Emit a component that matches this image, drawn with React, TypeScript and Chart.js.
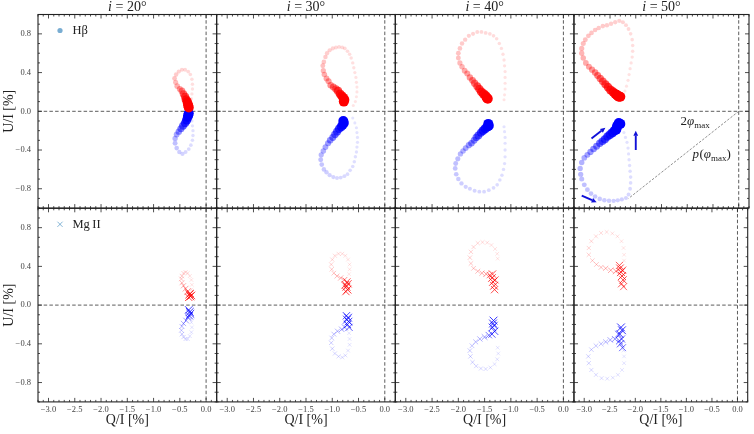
import React, { useEffect, useRef } from "react";
import { Chart, registerables } from "chart.js";

Chart.register(...registerables);

// [Q/I (%), U/I (%), relative line flux]
type Sample = [number, number, number];

const inclinations = [20, 30, 40, 50];
const qRange = [-3.2, 0.2];
const uRange = [-1.0, 1.0];
const qLabelValues = [-3.0, -2.5, -2.0, -1.5, -1.0, -0.5, 0.0];
const uLabelValues = [-0.8, -0.4, 0.0, 0.4, 0.8];

// ---- H beta, red wing ----
const hbetaRed20: Sample[] = [
  [-0.33, 0.04, 1], [-0.34, 0.06, 1], [-0.35, 0.08, 0.95], [-0.36, 0.1, 0.9], [-0.38, 0.12, 0.85],
  [-0.4, 0.15, 0.75], [-0.43, 0.18, 0.65], [-0.46, 0.21, 0.55], [-0.5, 0.23, 0.45], [-0.55, 0.26, 0.38],
  [-0.58, 0.3, 0.32], [-0.6, 0.34, 0.28], [-0.57, 0.38, 0.24], [-0.52, 0.41, 0.2], [-0.46, 0.43, 0.18],
  [-0.4, 0.43, 0.16], [-0.34, 0.41, 0.14], [-0.3, 0.38, 0.12], [-0.27, 0.33, 0.1], [-0.26, 0.28, 0.09],
  [-0.26, 0.23, 0.08], [-0.27, 0.18, 0.07], [-0.28, 0.13, 0.06], [-0.3, 0.08, 0.05], [-0.32, 0.03, 0.05],
];
const hbetaRed30: Sample[] = [
  [-0.78, 0.1, 1], [-0.77, 0.12, 1], [-0.79, 0.14, 0.95], [-0.82, 0.16, 0.9], [-0.85, 0.18, 0.85],
  [-0.89, 0.21, 0.75], [-0.93, 0.23, 0.65], [-0.98, 0.25, 0.58], [-1.03, 0.27, 0.52], [-1.07, 0.31, 0.46],
  [-1.11, 0.34, 0.42], [-1.15, 0.38, 0.38], [-1.17, 0.42, 0.34], [-1.18, 0.47, 0.3], [-1.16, 0.51, 0.27],
  [-1.13, 0.56, 0.24], [-1.1, 0.6, 0.22], [-1.05, 0.63, 0.2], [-0.99, 0.65, 0.18], [-0.93, 0.66, 0.16],
  [-0.87, 0.665, 0.15], [-0.81, 0.66, 0.14], [-0.76, 0.65, 0.13], [-0.71, 0.62, 0.12], [-0.67, 0.59, 0.11],
  [-0.64, 0.55, 0.1], [-0.61, 0.5, 0.09], [-0.59, 0.45, 0.08], [-0.57, 0.4, 0.07], [-0.55, 0.35, 0.06],
  [-0.54, 0.3, 0.06], [-0.53, 0.25, 0.05], [-0.53, 0.2, 0.05], [-0.54, 0.15, 0.04], [-0.56, 0.1, 0.04],
  [-0.6, 0.06, 0.04],
];
const hbetaRed40: Sample[] = [
  [-1.44, 0.13, 1], [-1.46, 0.14, 1], [-1.48, 0.16, 0.95], [-1.52, 0.18, 0.9], [-1.56, 0.2, 0.85],
  [-1.6, 0.23, 0.78], [-1.64, 0.26, 0.7], [-1.69, 0.29, 0.62], [-1.73, 0.32, 0.56], [-1.78, 0.35, 0.5],
  [-1.83, 0.39, 0.45], [-1.88, 0.42, 0.4], [-1.93, 0.46, 0.36], [-1.97, 0.5, 0.33], [-2.0, 0.55, 0.3],
  [-2.0, 0.6, 0.28], [-1.97, 0.65, 0.26], [-1.93, 0.7, 0.24], [-1.87, 0.74, 0.22], [-1.8, 0.78, 0.2],
  [-1.72, 0.8, 0.18], [-1.64, 0.82, 0.16], [-1.56, 0.82, 0.15], [-1.48, 0.81, 0.14], [-1.4, 0.8, 0.13],
  [-1.33, 0.78, 0.12], [-1.27, 0.75, 0.11], [-1.22, 0.7, 0.1], [-1.18, 0.65, 0.09], [-1.15, 0.59, 0.08],
  [-1.13, 0.53, 0.07], [-1.12, 0.47, 0.07], [-1.11, 0.41, 0.06], [-1.11, 0.35, 0.06], [-1.11, 0.29, 0.05],
  [-1.11, 0.23, 0.05], [-1.12, 0.17, 0.04], [-1.13, 0.12, 0.04],
];
const hbetaRed50: Sample[] = [
  [-2.3, 0.15, 1], [-2.33, 0.15, 1], [-2.35, 0.16, 1], [-2.37, 0.17, 1], [-2.4, 0.18, 0.95],
  [-2.44, 0.2, 0.9], [-2.49, 0.22, 0.85], [-2.54, 0.25, 0.8], [-2.59, 0.28, 0.74], [-2.64, 0.31, 0.68],
  [-2.69, 0.34, 0.63], [-2.74, 0.37, 0.58], [-2.79, 0.4, 0.53], [-2.85, 0.43, 0.48], [-2.91, 0.46, 0.44],
  [-2.97, 0.5, 0.4], [-3.02, 0.55, 0.37], [-3.05, 0.6, 0.35], [-3.05, 0.65, 0.33], [-3.02, 0.7, 0.31],
  [-2.98, 0.74, 0.3], [-2.92, 0.78, 0.28], [-2.86, 0.81, 0.27], [-2.79, 0.84, 0.26], [-2.72, 0.86, 0.25],
  [-2.64, 0.88, 0.24], [-2.56, 0.89, 0.23], [-2.48, 0.905, 0.22], [-2.4, 0.92, 0.21], [-2.32, 0.935, 0.2],
  [-2.25, 0.92, 0.18], [-2.19, 0.89, 0.16], [-2.14, 0.85, 0.14], [-2.1, 0.8, 0.12], [-2.07, 0.74, 0.11],
  [-2.06, 0.68, 0.1], [-2.06, 0.62, 0.09], [-2.07, 0.56, 0.08], [-2.09, 0.5, 0.07], [-2.11, 0.44, 0.07],
  [-2.13, 0.38, 0.06], [-2.15, 0.32, 0.06], [-2.18, 0.26, 0.05], [-2.21, 0.21, 0.05],
];

// ---- H beta, blue wing ----
const hbetaBlue20: Sample[] = [
  [-0.33, -0.02, 1], [-0.34, -0.04, 1], [-0.35, -0.06, 0.95], [-0.37, -0.09, 0.9], [-0.4, -0.12, 0.8],
  [-0.44, -0.15, 0.7], [-0.48, -0.18, 0.6], [-0.52, -0.21, 0.5], [-0.56, -0.24, 0.42], [-0.59, -0.28, 0.35],
  [-0.59, -0.33, 0.3], [-0.56, -0.38, 0.26], [-0.51, -0.42, 0.22], [-0.45, -0.44, 0.19], [-0.39, -0.42, 0.16],
  [-0.33, -0.39, 0.14], [-0.29, -0.35, 0.12], [-0.26, -0.3, 0.1], [-0.25, -0.25, 0.09], [-0.25, -0.2, 0.08],
  [-0.26, -0.15, 0.07], [-0.27, -0.1, 0.06], [-0.29, -0.05, 0.05],
];
const hbetaBlue30: Sample[] = [
  [-0.79, -0.1, 1], [-0.78, -0.12, 1], [-0.8, -0.14, 0.95], [-0.83, -0.16, 0.88], [-0.87, -0.18, 0.8],
  [-0.91, -0.21, 0.72], [-0.95, -0.24, 0.65], [-0.99, -0.27, 0.58], [-1.04, -0.3, 0.52], [-1.08, -0.33, 0.46],
  [-1.13, -0.37, 0.42], [-1.17, -0.41, 0.38], [-1.21, -0.45, 0.34], [-1.22, -0.5, 0.3], [-1.2, -0.55, 0.27],
  [-1.16, -0.6, 0.24], [-1.11, -0.63, 0.22], [-1.05, -0.66, 0.2], [-0.98, -0.68, 0.18], [-0.91, -0.69, 0.16],
  [-0.84, -0.685, 0.15], [-0.77, -0.67, 0.14], [-0.71, -0.65, 0.13], [-0.66, -0.61, 0.12], [-0.61, -0.57, 0.11],
  [-0.58, -0.52, 0.1], [-0.56, -0.47, 0.09], [-0.54, -0.42, 0.08], [-0.53, -0.37, 0.07], [-0.52, -0.32, 0.06],
  [-0.52, -0.27, 0.06], [-0.53, -0.22, 0.05], [-0.54, -0.17, 0.05], [-0.57, -0.12, 0.04], [-0.61, -0.07, 0.04],
];
const hbetaBlue40: Sample[] = [
  [-1.43, -0.13, 1], [-1.42, -0.15, 1], [-1.45, -0.16, 0.95], [-1.49, -0.18, 0.9], [-1.53, -0.2, 0.84],
  [-1.57, -0.22, 0.77], [-1.62, -0.25, 0.7], [-1.66, -0.27, 0.63], [-1.7, -0.3, 0.57], [-1.75, -0.33, 0.52],
  [-1.8, -0.35, 0.47], [-1.86, -0.38, 0.42], [-1.91, -0.41, 0.38], [-1.96, -0.44, 0.35], [-2.01, -0.49, 0.32],
  [-2.05, -0.54, 0.3], [-2.06, -0.59, 0.28], [-2.04, -0.65, 0.26], [-2.0, -0.7, 0.24], [-1.94, -0.745, 0.22],
  [-1.86, -0.78, 0.2], [-1.78, -0.8, 0.18], [-1.69, -0.82, 0.17], [-1.6, -0.83, 0.16], [-1.51, -0.83, 0.15],
  [-1.42, -0.815, 0.14], [-1.33, -0.79, 0.13], [-1.26, -0.76, 0.12], [-1.21, -0.71, 0.11], [-1.17, -0.66, 0.1],
  [-1.14, -0.6, 0.09], [-1.12, -0.54, 0.08], [-1.11, -0.47, 0.07], [-1.11, -0.4, 0.07], [-1.11, -0.33, 0.06],
  [-1.11, -0.27, 0.06], [-1.12, -0.21, 0.05], [-1.13, -0.16, 0.05],
];
const hbetaBlue50: Sample[] = [
  [-2.3, -0.13, 1], [-2.33, -0.12, 1], [-2.36, -0.15, 1], [-2.37, -0.17, 1], [-2.38, -0.19, 1],
  [-2.41, -0.2, 0.95], [-2.45, -0.22, 0.9], [-2.5, -0.24, 0.85], [-2.55, -0.26, 0.8], [-2.6, -0.29, 0.74],
  [-2.65, -0.31, 0.68], [-2.7, -0.33, 0.63], [-2.76, -0.36, 0.58], [-2.82, -0.39, 0.53], [-2.88, -0.42, 0.48],
  [-2.94, -0.45, 0.44], [-3.0, -0.48, 0.4], [-3.05, -0.53, 0.37], [-3.08, -0.59, 0.35], [-3.07, -0.65, 0.33],
  [-3.05, -0.7, 0.31], [-3.0, -0.76, 0.3], [-2.94, -0.81, 0.28], [-2.87, -0.85, 0.27], [-2.79, -0.88, 0.26],
  [-2.7, -0.905, 0.25], [-2.61, -0.92, 0.24], [-2.52, -0.925, 0.23], [-2.43, -0.925, 0.22], [-2.35, -0.92, 0.21],
  [-2.27, -0.91, 0.2], [-2.19, -0.895, 0.18], [-2.14, -0.86, 0.16], [-2.11, -0.8, 0.14], [-2.1, -0.74, 0.12],
  [-2.1, -0.68, 0.11], [-2.11, -0.62, 0.1], [-2.12, -0.56, 0.09], [-2.13, -0.5, 0.08], [-2.14, -0.44, 0.07],
  [-2.15, -0.38, 0.07], [-2.17, -0.32, 0.06], [-2.2, -0.27, 0.06], [-2.23, -0.22, 0.05],
];

// ---- Mg II, red wing ----
const mg2Red20: Sample[] = [
  [-0.3, 0.09, 1], [-0.32, 0.11, 1], [-0.28, 0.1, 0.95], [-0.33, 0.08, 0.9], [-0.3, 0.12, 0.9],
  [-0.35, 0.14, 0.7], [-0.39, 0.17, 0.55], [-0.43, 0.2, 0.45], [-0.46, 0.23, 0.38], [-0.47, 0.27, 0.32],
  [-0.46, 0.3, 0.28], [-0.43, 0.33, 0.24], [-0.39, 0.34, 0.2], [-0.35, 0.33, 0.17], [-0.31, 0.3, 0.15],
  [-0.28, 0.26, 0.13], [-0.27, 0.21, 0.11], [-0.28, 0.16, 0.1],
];
const mg2Red30: Sample[] = [
  [-0.73, 0.19, 1], [-0.71, 0.16, 1], [-0.75, 0.21, 0.95], [-0.7, 0.22, 0.9], [-0.74, 0.14, 0.9],
  [-0.72, 0.24, 0.85], [-0.77, 0.26, 0.6], [-0.84, 0.28, 0.45], [-0.91, 0.3, 0.38], [-0.97, 0.33, 0.32],
  [-1.01, 0.37, 0.28], [-1.02, 0.42, 0.25], [-1.0, 0.47, 0.22], [-0.95, 0.51, 0.2], [-0.88, 0.53, 0.18],
  [-0.81, 0.53, 0.16], [-0.75, 0.51, 0.14], [-0.7, 0.47, 0.13], [-0.67, 0.42, 0.12], [-0.67, 0.37, 0.11],
  [-0.68, 0.32, 0.1],
];
const mg2Red40: Sample[] = [
  [-1.34, 0.24, 1], [-1.32, 0.2, 1], [-1.36, 0.28, 0.95], [-1.31, 0.16, 0.9], [-1.35, 0.32, 0.9],
  [-1.3, 0.26, 0.85], [-1.4, 0.31, 0.7], [-1.47, 0.32, 0.55], [-1.55, 0.33, 0.45], [-1.63, 0.35, 0.38],
  [-1.71, 0.38, 0.33], [-1.76, 0.43, 0.3], [-1.78, 0.49, 0.27], [-1.76, 0.55, 0.24], [-1.71, 0.6, 0.22],
  [-1.63, 0.64, 0.2], [-1.54, 0.65, 0.18], [-1.45, 0.645, 0.16], [-1.37, 0.62, 0.14], [-1.3, 0.58, 0.13],
  [-1.26, 0.53, 0.12], [-1.25, 0.48, 0.11],
];
const mg2Red50: Sample[] = [
  [-2.28, 0.34, 1], [-2.26, 0.3, 1], [-2.3, 0.38, 0.95], [-2.24, 0.26, 0.9], [-2.27, 0.22, 0.85],
  [-2.23, 0.19, 0.8], [-2.31, 0.41, 0.85], [-2.25, 0.36, 0.9], [-2.38, 0.35, 0.6], [-2.48, 0.36, 0.5],
  [-2.58, 0.38, 0.42], [-2.67, 0.39, 0.36], [-2.76, 0.42, 0.32], [-2.84, 0.46, 0.28], [-2.91, 0.52, 0.25],
  [-2.91, 0.59, 0.23], [-2.86, 0.66, 0.21], [-2.77, 0.71, 0.19], [-2.67, 0.745, 0.17], [-2.56, 0.755, 0.15],
  [-2.45, 0.74, 0.14], [-2.35, 0.71, 0.13], [-2.27, 0.66, 0.12], [-2.23, 0.59, 0.11], [-2.22, 0.52, 0.1],
  [-2.22, 0.46, 0.1],
];

// ---- Mg II, blue wing ----
const mg2Blue20: Sample[] = [
  [-0.31, -0.07, 1], [-0.33, -0.05, 0.95], [-0.3, -0.09, 1], [-0.32, -0.11, 0.9], [-0.34, -0.13, 0.7],
  [-0.38, -0.16, 0.55], [-0.43, -0.19, 0.45], [-0.46, -0.22, 0.38], [-0.47, -0.26, 0.32], [-0.46, -0.3, 0.28],
  [-0.43, -0.33, 0.24], [-0.39, -0.35, 0.2], [-0.35, -0.35, 0.17], [-0.31, -0.32, 0.15], [-0.28, -0.28, 0.13],
  [-0.27, -0.23, 0.11], [-0.28, -0.18, 0.1], [-0.3, -0.14, 0.1],
];
const mg2Blue30: Sample[] = [
  [-0.7, -0.13, 1], [-0.72, -0.15, 1], [-0.69, -0.17, 0.95], [-0.71, -0.2, 0.9], [-0.68, -0.23, 0.85],
  [-0.73, -0.11, 0.9], [-0.76, -0.23, 0.6], [-0.82, -0.25, 0.5], [-0.9, -0.27, 0.42], [-0.97, -0.3, 0.36],
  [-1.01, -0.34, 0.31], [-1.02, -0.39, 0.27], [-1.0, -0.45, 0.24], [-0.95, -0.5, 0.21], [-0.88, -0.53, 0.19],
  [-0.81, -0.54, 0.17], [-0.75, -0.52, 0.15], [-0.7, -0.47, 0.13], [-0.67, -0.41, 0.12], [-0.67, -0.35, 0.11],
  [-0.68, -0.29, 0.1],
];
const mg2Blue40: Sample[] = [
  [-1.34, -0.19, 1], [-1.33, -0.16, 1], [-1.35, -0.23, 0.95], [-1.31, -0.27, 0.9], [-1.36, -0.3, 0.85],
  [-1.32, -0.21, 0.9], [-1.42, -0.31, 0.7], [-1.5, -0.33, 0.55], [-1.59, -0.35, 0.45], [-1.67, -0.38, 0.38],
  [-1.74, -0.42, 0.33], [-1.78, -0.47, 0.3], [-1.77, -0.53, 0.27], [-1.73, -0.59, 0.24], [-1.66, -0.63, 0.22],
  [-1.57, -0.655, 0.2], [-1.48, -0.66, 0.18], [-1.39, -0.645, 0.16], [-1.31, -0.61, 0.14], [-1.26, -0.56, 0.13],
  [-1.24, -0.5, 0.12], [-1.25, -0.44, 0.11],
];
const mg2Blue50: Sample[] = [
  [-2.28, -0.23, 1], [-2.26, -0.26, 1], [-2.3, -0.3, 0.9], [-2.27, -0.35, 0.85], [-2.29, -0.4, 0.85],
  [-2.25, -0.44, 0.8], [-2.31, -0.37, 0.8], [-2.33, -0.3, 0.75], [-2.4, -0.35, 0.6], [-2.49, -0.36, 0.5],
  [-2.58, -0.38, 0.42], [-2.67, -0.4, 0.36], [-2.77, -0.42, 0.32], [-2.86, -0.46, 0.28], [-2.92, -0.53, 0.25],
  [-2.91, -0.6, 0.23], [-2.86, -0.67, 0.21], [-2.77, -0.72, 0.19], [-2.66, -0.755, 0.17], [-2.55, -0.76, 0.15],
  [-2.44, -0.75, 0.14], [-2.34, -0.72, 0.13], [-2.26, -0.67, 0.12], [-2.22, -0.6, 0.11], [-2.22, -0.53, 0.1],
  [-2.23, -0.47, 0.1],
];

// Direction-of-travel arrows in the i = 50° H beta panel: [q0, u0, q1, u1]
const flowArrows: [number, number, number, number][] = [
  [-2.86, -0.28, -2.59, -0.17],
  [-2.0, -0.4, -2.0, -0.2],
  [-3.05, -0.87, -2.76, -0.94],
];
// Point of maximum polarisation angle on the blue loop
const phiMaxPoint: [number, number] = [-2.14, -0.9];

const hbetaRed = [hbetaRed20, hbetaRed30, hbetaRed40, hbetaRed50];
const hbetaBlue = [hbetaBlue20, hbetaBlue30, hbetaBlue40, hbetaBlue50];
const mg2Red = [mg2Red20, mg2Red30, mg2Red40, mg2Red50];
const mg2Blue = [mg2Blue20, mg2Blue30, mg2Blue40, mg2Blue50];

// ---- layout ----
const CANVAS_W = 754;
const CANVAS_H = 434;
const COL_LEFT = [38, 216.7, 395.3, 574];
const ROW_TOP = [14.5, 208.3];
const PANEL_W = 178.6;
const PANEL_H = 193.6;
const SERIF = '"Liberation Serif", "DejaVu Serif", serif';
const INK = "#222";
const TICK_INK = "#444";
const LEGEND_BLUE = "rgba(31,119,180,0.6)";

const isOneOf = (list: number[], v: number) => list.some((t) => Math.abs(t - v) < 1e-6);
const fmt = (v: number) => (Math.abs(v) < 1e-9 ? "0.0" : v.toFixed(1).replace("-", "\u2212"));

function drawArrow(ctx: CanvasRenderingContext2D, x1: number, y1: number, x2: number, y2: number) {
  const ang = Math.atan2(y2 - y1, x2 - x1);
  const head = 5;
  const hw = 2.4;
  const bx = x2 - head * Math.cos(ang);
  const by = y2 - head * Math.sin(ang);
  ctx.beginPath();
  ctx.moveTo(x1, y1);
  ctx.lineTo(bx, by);
  ctx.stroke();
  ctx.beginPath();
  ctx.moveTo(x2, y2);
  ctx.lineTo(bx + hw * Math.sin(ang), by - hw * Math.cos(ang));
  ctx.lineTo(bx - hw * Math.sin(ang), by + hw * Math.cos(ang));
  ctx.closePath();
  ctx.fill();
}

function Panel({ row, col }: { row: number; col: number }) {
  const ref = useRef<HTMLCanvasElement>(null);

  useEffect(() => {
    const canvas = ref.current;
    if (!canvas) return;
    const left = COL_LEFT[col];
    const top = ROW_TOP[row];
    const firstCol = col === 0;
    const bottomRow = row === 1;
    const yBox = firstCol ? left - 0.7 : 0;
    const xBox = bottomRow ? 26.9 : 0;
    const isMg = row === 1;
    const red = isMg ? mg2Red[col] : hbetaRed[col];
    const blue = isMg ? mg2Blue[col] : hbetaBlue[col];

    const toPoints = (s: Sample[]) => s.map(([x, y, w]) => ({ x, y, w }));
    const alphaOf = (w: number) => (isMg ? 0.1 + 0.9 * Math.pow(w, 1.4) : 0.1 + 0.9 * Math.pow(w, 1.5));
    const radiusOf = (w: number) => (isMg ? 2.2 + 3.3 * w : 1.4 + 3.6 * w);

    const makeSet = (s: Sample[], rgb: string) => ({
      data: toPoints(s),
      pointStyle: isMg ? "crossRot" : "circle",
      pointRadius: (c: any) => radiusOf(c.raw.w),
      pointBackgroundColor: (c: any) => `rgba(${rgb},${alphaOf(c.raw.w)})`,
      pointBorderColor: (c: any) => `rgba(${rgb},${alphaOf(c.raw.w)})`,
      pointBorderWidth: isMg ? 0.8 : 0,
      showLine: false,
    });

    const decor = {
      id: "panelDecor",
      beforeDatasetsDraw(chart: any) {
        const { ctx, chartArea: a, scales } = chart;
        const x0 = scales.x.getPixelForValue(0);
        const y0 = scales.y.getPixelForValue(0);
        ctx.save();
        ctx.strokeStyle = "#333";
        ctx.lineWidth = 0.8;
        ctx.setLineDash([3.5, 2.2]);
        ctx.beginPath();
        ctx.moveTo(a.left, y0);
        ctx.lineTo(a.right, y0);
        ctx.moveTo(x0, a.top);
        ctx.lineTo(x0, a.bottom);
        ctx.stroke();
        ctx.restore();
      },
      afterDraw(chart: any) {
        const { ctx, chartArea: a, scales } = chart;
        const sx = scales.x;
        const sy = scales.y;
        ctx.save();
        // inward ticks on all four sides
        ctx.strokeStyle = INK;
        ctx.lineWidth = 0.8;
        ctx.beginPath();
        for (const t of sx.ticks) {
          const px = sx.getPixelForValue(t.value);
          const len = isOneOf(qLabelValues, t.value) ? 4 : 2;
          ctx.moveTo(px, a.bottom);
          ctx.lineTo(px, a.bottom - len);
          ctx.moveTo(px, a.top);
          ctx.lineTo(px, a.top + len);
        }
        for (const t of sy.ticks) {
          const py = sy.getPixelForValue(t.value);
          const len = isOneOf(uLabelValues, t.value) ? 4 : 2;
          ctx.moveTo(a.left, py);
          ctx.lineTo(a.left + len, py);
          ctx.moveTo(a.right, py);
          ctx.lineTo(a.right - len, py);
        }
        ctx.stroke();
        // frame
        ctx.lineWidth = 1.1;
        ctx.strokeRect(a.left, a.top, a.right - a.left, a.bottom - a.top);

        // inclination title
        if (row === 0) {
          const cx = (a.left + a.right) / 2;
          const rest = ` = ${inclinations[col]}°`;
          ctx.fillStyle = INK;
          ctx.textBaseline = "alphabetic";
          ctx.font = `italic 14px ${SERIF}`;
          const w1 = ctx.measureText("i").width;
          ctx.font = `14px ${SERIF}`;
          const w2 = ctx.measureText(rest).width;
          const start = cx - (w1 + w2) / 2;
          ctx.font = `italic 14px ${SERIF}`;
          ctx.fillText("i", start, a.top - 3.2);
          ctx.font = `14px ${SERIF}`;
          ctx.fillText(rest, start + w1, a.top - 3.2);
        }

        // line legend
        if (col === 0) {
          const lx = a.left + 22;
          const ly = a.top + 16;
          ctx.fillStyle = LEGEND_BLUE;
          ctx.strokeStyle = LEGEND_BLUE;
          if (row === 0) {
            ctx.beginPath();
            ctx.arc(lx, ly, 2.6, 0, Math.PI * 2);
            ctx.fill();
          } else {
            ctx.lineWidth = 0.9;
            ctx.beginPath();
            ctx.moveTo(lx - 2.6, ly - 2.6);
            ctx.lineTo(lx + 2.6, ly + 2.6);
            ctx.moveTo(lx - 2.6, ly + 2.6);
            ctx.lineTo(lx + 2.6, ly - 2.6);
            ctx.stroke();
          }
          ctx.fillStyle = INK;
          ctx.font = `12.5px ${SERIF}`;
          ctx.textBaseline = "middle";
          ctx.fillText(row === 0 ? "H\u03b2" : "Mg\u2009II", lx + 12.5, ly + 0.5);
        }

        // polarisation angle annotation and flow arrows
        if (row === 0 && col === 3) {
          ctx.strokeStyle = "#444";
          ctx.lineWidth = 0.6;
          ctx.setLineDash([2.5, 1.5]);
          ctx.beginPath();
          ctx.moveTo(sx.getPixelForValue(0), sy.getPixelForValue(0));
          ctx.lineTo(sx.getPixelForValue(phiMaxPoint[0]), sy.getPixelForValue(phiMaxPoint[1]));
          ctx.stroke();
          ctx.setLineDash([]);

          ctx.fillStyle = INK;
          ctx.textBaseline = "alphabetic";
          let tx = sx.getPixelForValue(-1.13);
          let ty = sy.getPixelForValue(-0.145);
          ctx.font = `13px ${SERIF}`;
          ctx.fillText("2", tx, ty);
          tx += ctx.measureText("2").width;
          ctx.font = `italic 13px ${SERIF}`;
          ctx.fillText("\u03c6", tx, ty);
          tx += ctx.measureText("\u03c6").width;
          ctx.font = `9px ${SERIF}`;
          ctx.fillText("max", tx, ty + 2.5);

          tx = sx.getPixelForValue(-0.9);
          ty = sy.getPixelForValue(-0.485);
          ctx.font = `italic 13px ${SERIF}`;
          ctx.fillText("p", tx, ty);
          tx += ctx.measureText("p").width + 0.5;
          ctx.font = `13px ${SERIF}`;
          ctx.fillText("(", tx, ty);
          tx += ctx.measureText("(").width;
          ctx.font = `italic 13px ${SERIF}`;
          ctx.fillText("\u03c6", tx, ty);
          tx += ctx.measureText("\u03c6").width;
          ctx.font = `9px ${SERIF}`;
          ctx.fillText("max", tx, ty + 2.5);
          tx += ctx.measureText("max").width;
          ctx.font = `13px ${SERIF}`;
          ctx.fillText(")", tx, ty);

          ctx.strokeStyle = "#1010d8";
          ctx.fillStyle = "#1010d8";
          ctx.lineWidth = 1.9;
          for (const [q0, u0, q1, u1] of flowArrows) {
            drawArrow(
              ctx,
              sx.getPixelForValue(q0),
              sy.getPixelForValue(u0),
              sx.getPixelForValue(q1),
              sy.getPixelForValue(u1)
            );
          }
        }
        ctx.restore();
      },
    };

    const tickFont = { family: SERIF, size: 8.5 };
    const titleFont = { family: SERIF, size: 14 };

    const chart = new Chart(canvas, {
      type: "scatter",
      data: {
        datasets: [makeSet(red, "255,0,0"), makeSet(blue, "0,0,255")] as any,
      },
      options: {
        animation: false,
        responsive: false,
        devicePixelRatio: 1,
        events: [],
        layout: {
          padding: {
            left: left - yBox,
            top,
            right: CANVAS_W - (left + PANEL_W),
            bottom: CANVAS_H - (top + PANEL_H) - xBox,
          },
        },
        plugins: {
          legend: { display: false },
          tooltip: { enabled: false },
        },
        scales: {
          x: {
            type: "linear",
            position: "bottom",
            min: qRange[0],
            max: qRange[1],
            afterFit: (s: any) => {
              s.height = xBox;
              s.paddingLeft = s.paddingRight = s.paddingTop = s.paddingBottom = 0;
            },
            grid: { display: false, drawTicks: false },
            border: { display: false },
            ticks: {
              display: bottomRow,
              stepSize: 0.1,
              autoSkip: false,
              maxRotation: 0,
              minRotation: 0,
              padding: 2.6,
              color: TICK_INK,
              font: tickFont,
              callback: (v: any) => (isOneOf(qLabelValues, Number(v)) ? fmt(Number(v)) : ""),
            },
            title: {
              display: bottomRow,
              text: "Q/I [%]",
              color: INK,
              font: titleFont,
              padding: 0,
            },
          },
          y: {
            type: "linear",
            position: "left",
            min: uRange[0],
            max: uRange[1],
            afterFit: (s: any) => {
              s.width = yBox;
              s.paddingLeft = s.paddingRight = s.paddingTop = s.paddingBottom = 0;
            },
            grid: { display: false, drawTicks: false },
            border: { display: false },
            ticks: {
              display: firstCol,
              stepSize: 0.1,
              autoSkip: false,
              padding: 7,
              color: TICK_INK,
              font: tickFont,
              callback: (v: any) => (isOneOf(uLabelValues, Number(v)) ? fmt(Number(v)) : ""),
            },
            title: {
              display: firstCol,
              text: "U/I [%]",
              color: INK,
              font: titleFont,
              padding: 0,
            },
          },
        },
      } as any,
      plugins: [decor],
    });

    return () => chart.destroy();
  }, [row, col]);

  return (
    <canvas
      ref={ref}
      width={CANVAS_W}
      height={CANVAS_H}
      style={{ position: "absolute", left: 0, top: 0, width: CANVAS_W, height: CANVAS_H }}
    />
  );
}

export default function App() {
  const cells: { row: number; col: number }[] = [];
  for (let row = 0; row < 2; row++) for (let col = 0; col < 4; col++) cells.push({ row, col });
  return (
    <div
      style={{
        position: "absolute",
        left: 0,
        top: 0,
        width: CANVAS_W,
        height: CANVAS_H,
        background: "#fff",
        overflow: "hidden",
      }}
    >
      {cells.map((c) => (
        <Panel key={`${c.row}-${c.col}`} row={c.row} col={c.col} />
      ))}
    </div>
  );
}
